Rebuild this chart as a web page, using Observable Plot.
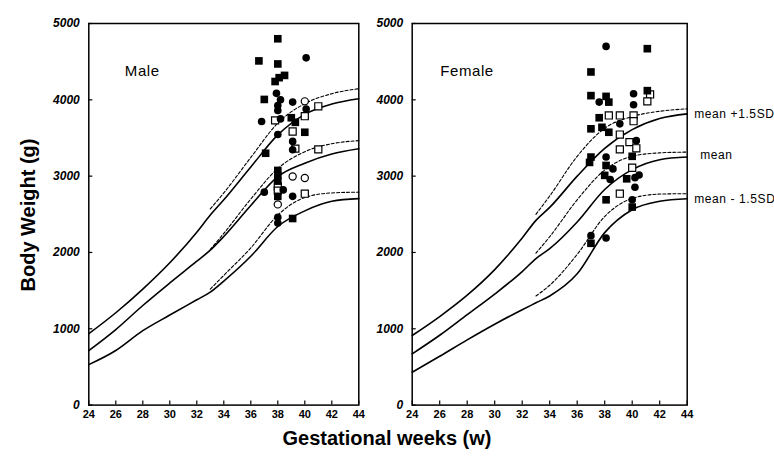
<!DOCTYPE html>
<html><head><meta charset="utf-8">
<script src="https://cdn.jsdelivr.net/npm/d3@7"></script>
<script src="https://cdn.jsdelivr.net/npm/@observablehq/plot@0.6"></script>
<style>
body{margin:0;background:#fff;}
#wrap{position:relative;width:774px;height:462px;font-family:"Liberation Sans",Arial,sans-serif;color:#000;}
#wrap > div.p{position:absolute;top:0;}
.ytitle{position:absolute;left:28px;top:215px;transform:translate(-50%,-50%) rotate(-90deg);font-weight:bold;font-size:20px;white-space:nowrap;}
.xtitle{position:absolute;left:387px;top:438px;transform:translate(-50%,-50%);font-weight:bold;font-size:20px;white-space:nowrap;}
g[aria-label="text"] text{letter-spacing:0.6px;}
</style></head>
<body>
<div id="wrap">
  <div class="p" id="male" style="left:0px"></div>
  <div class="p" id="female" style="left:365px"></div>
  <div class="ytitle">Body Weight (g)</div>
  <div class="xtitle">Gestational weeks (w)</div>
</div>
<script>
// ---- tick labels ----
const xTicks = [24,26,28,30,32,34,36,38,40,42,44];
const yTicks = [0,1000,2000,3000,4000,5000];

// ---- reference curves (solid: 24-44 w, dashed: 33-44 w) ----
const curveWeeks = [24,26,28,30,32,33,34,36,38,40,42,44];
const maleUpper  = [935,1210,1520,1865,2265,2490,2690,3120,3540,3810,3945,4015];
const maleMean   = [715,990,1305,1600,1885,2030,2210,2615,2995,3170,3290,3358];
const maleLower  = [530,715,975,1180,1380,1480,1625,1950,2340,2545,2670,2705];
const femaleUpper = [912,1160,1440,1775,2190,2420,2590,3000,3365,3610,3755,3816];
const femaleMean  = [672,915,1185,1455,1750,1920,2050,2400,2825,3085,3215,3250];
const femaleLower = [431,640,855,1060,1250,1340,1430,1720,2260,2560,2670,2703];

const dashWeeks = [33,34,36,38,40,42,44];
const maleUpperD  = [2570,2780,3245,3695,3950,4080,4145];
const maleMeanD   = [2040,2250,2700,3100,3320,3425,3465];
const maleLowerD  = [1520,1700,2060,2490,2720,2780,2790];
const femaleUpperD = [2500,2740,3260,3628,3781,3850,3882];
const femaleMeanD  = [1990,2206,2690,3080,3260,3305,3315];
const femaleLowerD = [1430,1570,1975,2471,2708,2765,2770];

// ---- observed cases (fs filled square, fc filled circle, os open square, oc open circle) ----
const maleWeek = [38.0,36.6,38.0,38.5,38.1,37.8,37.0,39.0,39.3,40.0,37.1,38.0,38.0,38.0,38.0,39.1,
  40.1,37.9,38.2,39.1,38.0,38.0,40.1,36.8,38.2,38.0,39.1,39.1,38.4,37.0,39.1,38.0,38.0,
  41.0,37.8,40.0,39.1,39.3,41.0,38.0,38.0,40.0,
  40.0,39.1,40.0,38.0];
const maleWeight = [4800,4510,4470,4320,4290,4240,4005,3765,3705,3575,3300,3075,3010,2935,2735,2445,
  4550,4085,4000,3970,3925,3860,3880,3715,3750,3545,3455,3345,2820,2790,2735,2460,2385,
  3915,3730,3785,3585,3360,3350,2865,2810,2770,
  3980,2995,2975,2630];
const maleType = ["fs","fs","fs","fs","fs","fs","fs","fs","fs","fs","fs","fs","fs","fs","fs","fs",
  "fc","fc","fc","fc","fc","fc","fc","fc","fc","fc","fc","fc","fc","fc","fc","fc","fc",
  "os","os","os","os","os","os","os","os","os",
  "oc","oc","oc","oc"];

const femaleWeek = [37.0,41.1,37.0,38.1,38.3,41.1,37.6,37.0,37.8,38.3,37.0,36.9,38.1,40.0,38.0,39.6,38.1,40.0,37.0,
  38.1,37.6,40.1,40.1,39.1,40.3,38.1,38.6,38.4,40.2,40.5,40.2,40.0,37.0,38.1,
  41.3,41.1,38.3,39.1,40.1,40.1,39.1,39.8,40.3,39.1,40.0,39.1];
const femaleWeight = [4365,4670,4055,4045,3970,4120,3765,3620,3640,3575,3250,3180,3140,3260,3010,2965,2690,2595,2120,
  4700,3970,4080,3935,3685,3465,3250,3095,2955,2980,3015,2855,2690,2220,2190,
  4070,3980,3795,3795,3795,3720,3545,3445,3365,3350,3110,2770];
const femaleType = ["fs","fs","fs","fs","fs","fs","fs","fs","fs","fs","fs","fs","fs","fs","fs","fs","fs","fs","fs",
  "fc","fc","fc","fc","fc","fc","fc","fc","fc","fc","fc","fc","fc","fc","fc",
  "os","os","os","os","os","os","os","os","os","os","os","os"];

const curveLabels = ["mean +1.5SD","mean","mean - 1.5SD"];

function toRows(xs, ys){ return xs.map((x,i)=>({week:x, weight:ys[i]})); }

function panel({title, solid, dashed, week, weight, type, width, marginLeft, marginRight, labels}) {
  const pts = week.map((w,i)=>({week:w, weight:weight[i], type:type[i]}));
  const marks = [
    Plot.frame({stroke:"black", strokeWidth:1.5}),
    Plot.axisX({ticks:xTicks, tickFormat:d=>String(d), tickSize:-4, tickPadding:9, fontSize:11, fontWeight:"bold", label:null, strokeWidth:1.2}),
    Plot.axisY({ticks:yTicks, tickFormat:d=>String(d), tickSize:-4, tickPadding:13, fontSize:12, fontWeight:"bold", fontStyle:"italic", label:null, strokeWidth:1.2}),
    ...solid.map(s => Plot.line(toRows(curveWeeks, s), {x:"week", y:"weight", stroke:"black", strokeWidth:1.6, curve:"monotone-x"})),
    ...dashed.map(s => Plot.line(toRows(dashWeeks, s), {x:"week", y:"weight", stroke:"black", strokeWidth:1.1, strokeDasharray:"3,2", curve:"monotone-x"})),
    Plot.dot(pts.filter(d=>d.type==="os"), {x:"week", y:"weight", symbol:"square", r:4, fill:"white", stroke:"black", strokeWidth:1.2}),
    Plot.dot(pts.filter(d=>d.type==="oc"), {x:"week", y:"weight", symbol:"circle", r:3.6, fill:"white", stroke:"black", strokeWidth:1.2}),
    Plot.dot(pts.filter(d=>d.type==="fs"), {x:"week", y:"weight", symbol:"square", r:4.3, fill:"black", stroke:"none"}),
    Plot.dot(pts.filter(d=>d.type==="fc"), {x:"week", y:"weight", symbol:"circle", r:3.8, fill:"black", stroke:"none"}),
    Plot.text([title], {frameAnchor:"top-left", dx: title==="Male" ? 36 : 28, dy:42, fontSize:15, textAnchor:"start"})
  ];
  if (labels) {
    const lab = labels.map((t,i)=>({t, v: solid[i][solid[i].length-1], dx: i===1 ? 13 : 7, dy: i===1 ? -2 : 0}));
    lab.forEach(d => marks.push(Plot.text([d], {x:()=>44, y:"v", text:"t", dx:d.dx, dy:d.dy, textAnchor:"start", fontSize:12})));
  }
  return Plot.plot({
    width, height:462, marginLeft, marginRight, marginTop:23, marginBottom:57.4,
    style:{background:"transparent", overflow:"visible", fontFamily:"'Liberation Sans', Arial, sans-serif", color:"black"},
    x:{domain:[24,44]},
    y:{domain:[0,5000]},
    marks
  });
}

document.getElementById("male").append(panel({
  title:"Male", solid:[maleUpper,maleMean,maleLower], dashed:[maleUpperD,maleMeanD,maleLowerD],
  week:maleWeek, weight:maleWeight, type:maleType, width:365, marginLeft:88.3, marginRight:6.7
}));
document.getElementById("female").append(panel({
  title:"Female", solid:[femaleUpper,femaleMean,femaleLower], dashed:[femaleUpperD,femaleMeanD,femaleLowerD],
  week:femaleWeek, weight:femaleWeight, type:femaleType, width:409, marginLeft:46.7, marginRight:87.3,
  labels:curveLabels
}));
</script>
</body></html>
